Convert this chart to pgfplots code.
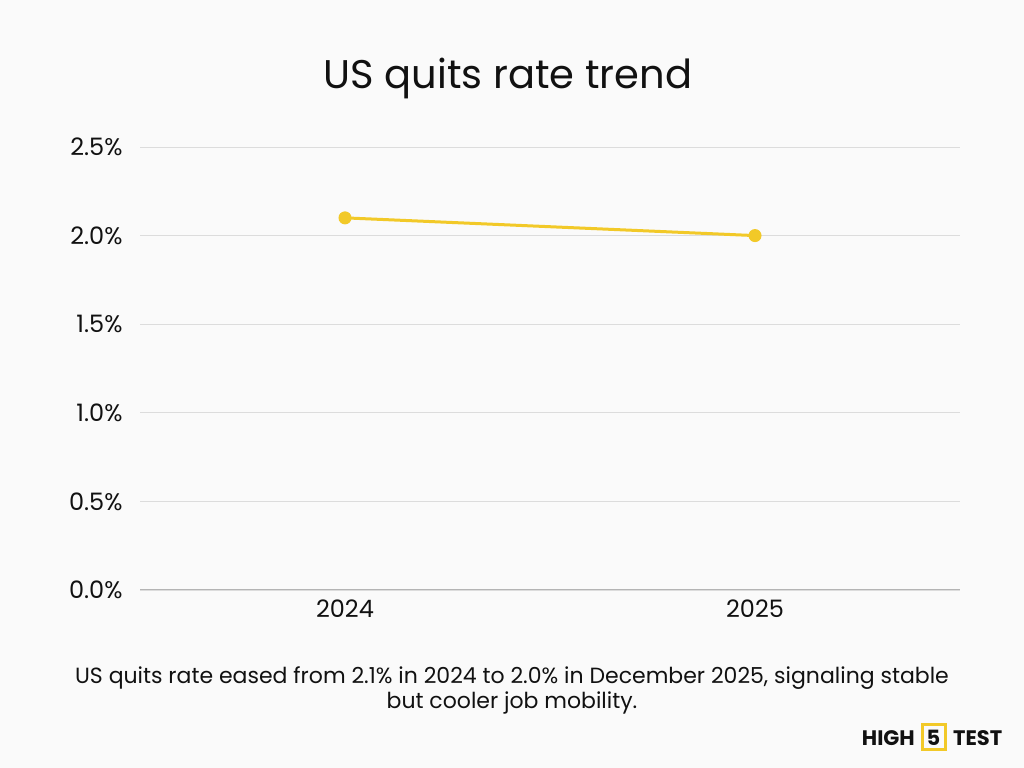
\documentclass[border=0pt]{standalone}
\usepackage{pgfplots}
\pgfplotsset{compat=1.18}
\usepackage{fontspec}
\setmainfont{Poppins}
\definecolor{bg}{HTML}{FAFAFA}
\definecolor{ln}{HTML}{F2C928}
\definecolor{grd}{HTML}{DCDCDC}
\definecolor{axl}{HTML}{B4B4B4}
\definecolor{txt}{HTML}{111111}
\begin{document}
\begin{tikzpicture}[x=1bp,y=1bp]
\fill[bg] (0,0) rectangle (1024,768);
\node[font=\fontsize{40bp}{46bp}\selectfont, text=txt] at (508,690) {US quits rate trend};
\begin{axis}[
  at={(140bp,178bp)}, anchor=south west,
  scale only axis, width=820bp, height=443bp,
  xmin=-0.5, xmax=1.5, ymin=0, ymax=2.5,
  xtick={0,1}, xticklabels={2024,2025},
  ytick={0,0.5,1,1.5,2,2.5},
  yticklabel={\pgfmathprintnumber[fixed,fixed zerofill,precision=1]{\tick}\%},
  /pgf/number format/assume math mode=true,
  ticklabel style={font=\fontsize{24bp}{28bp}\selectfont, text=txt},
  yticklabel style={xshift=-14bp},
  xticklabel style={yshift=-6bp},
  major tick length=0pt,
  axis line style={draw=none},
  ymajorgrids, grid style={grd, line width=0.8bp},
  extra y ticks={0}, extra y tick labels={},
  extra y tick style={grid style={axl, line width=1bp}},
  clip=false,
]
\addplot[ln, line width=3bp, mark=*, mark size=6bp, mark options={solid, fill=ln, draw=ln, line width=1bp}]
  coordinates {(0,2.1) (1,2.0)};
\end{axis}
\node[font=\fontsize{22bp}{25bp}\selectfont, text=txt, align=center] at (512,78) {US quits rate eased from 2.1\% in 2024 to 2.0\% in December 2025, signaling stable\\but cooler job mobility.};
\node[font=\fontsize{21bp}{24bp}\selectfont\bfseries, text=txt, anchor=east, inner sep=0pt] at (915,30) {HIGH};
\node[text=txt, draw=ln, line width=3bp, inner sep=0pt, minimum width=23bp, minimum height=25bp] at (933.5,30.5) {};
\node[font=\fontsize{21bp}{24bp}\selectfont\bfseries, text=txt] at (933.5,30) {5};
\node[font=\fontsize{21bp}{24bp}\selectfont\bfseries, text=txt, anchor=west, inner sep=0pt] at (953,30) {TEST};
\end{tikzpicture}
\end{document}
